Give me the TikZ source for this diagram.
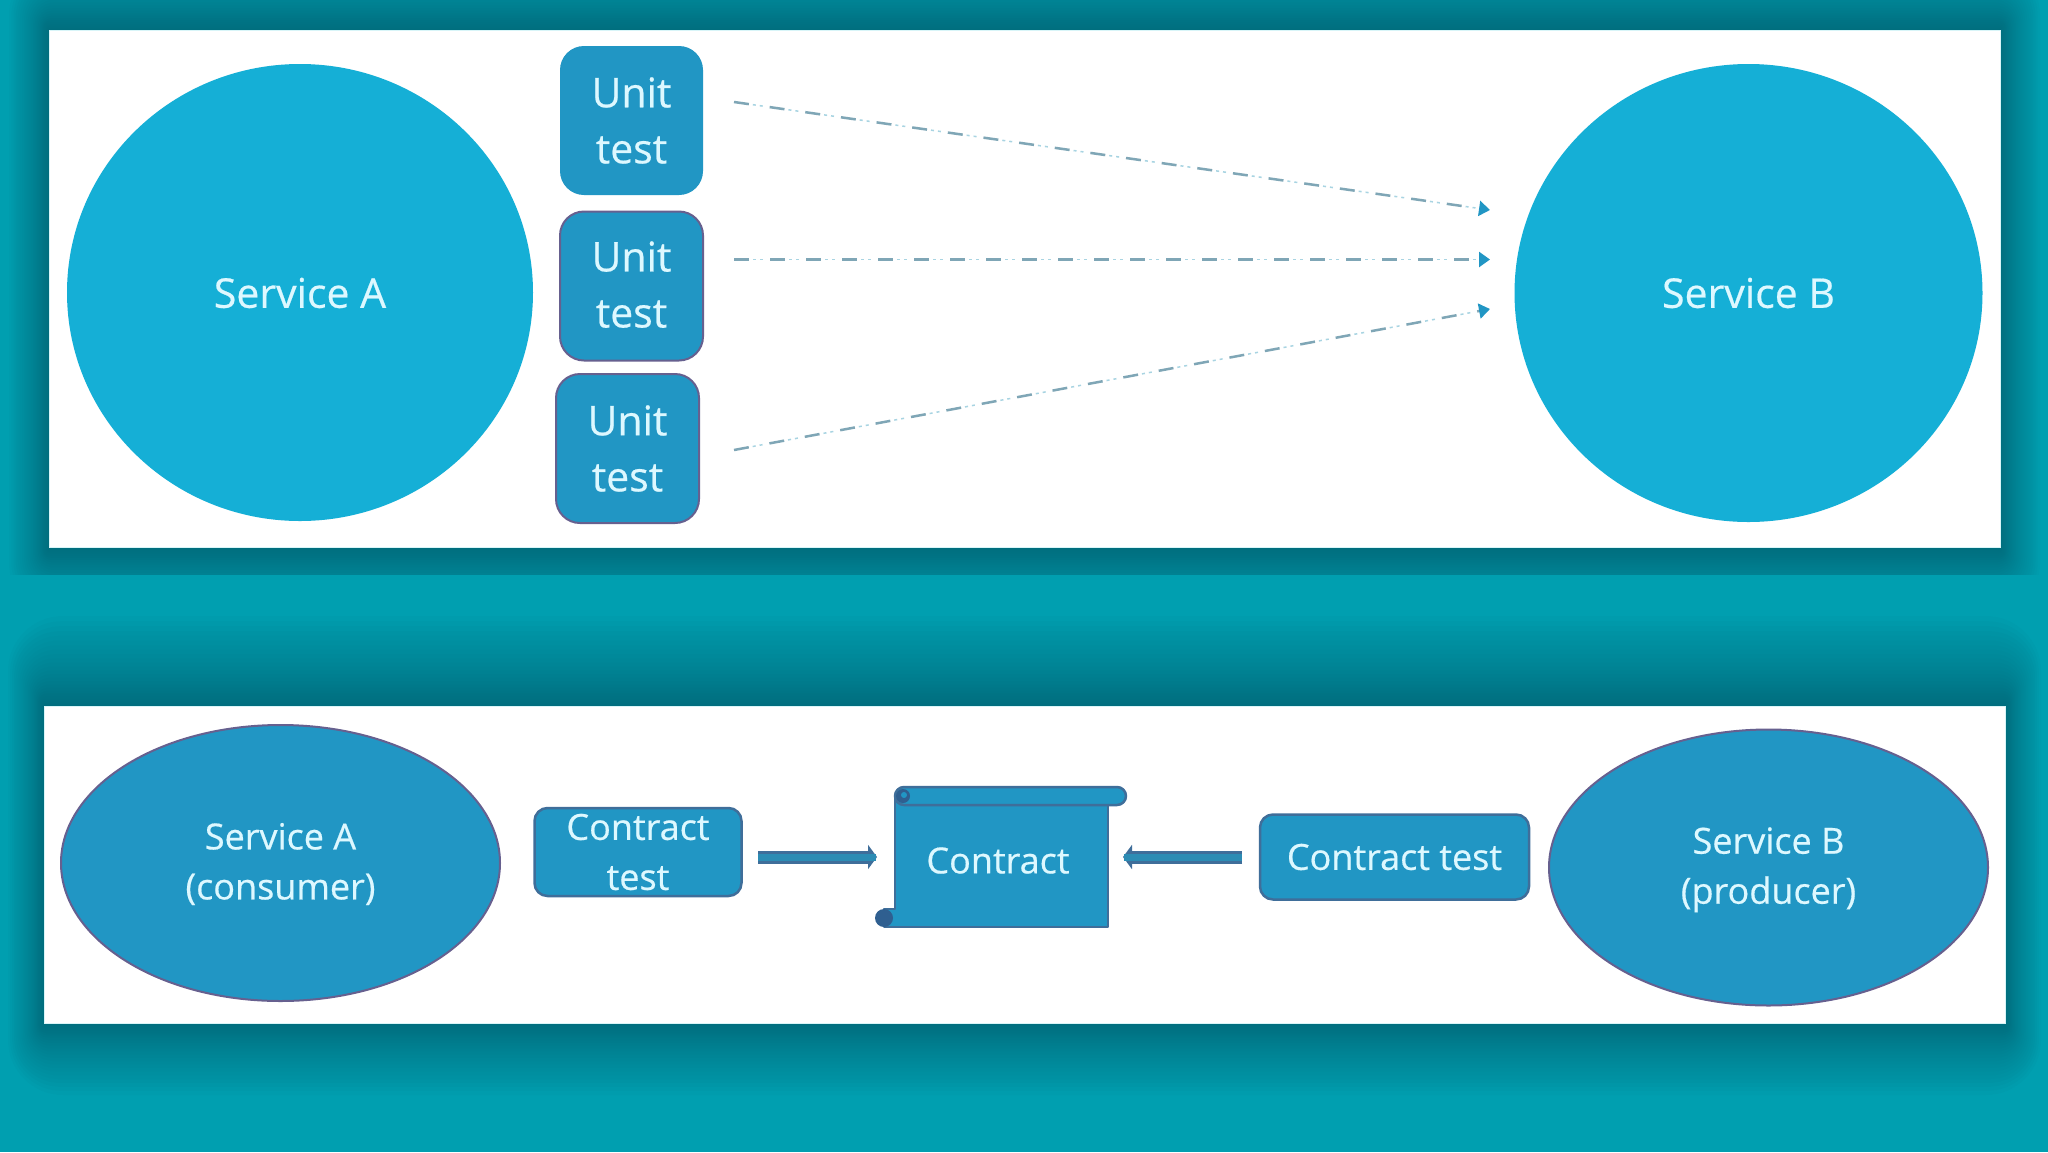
\documentclass[tikz,border=0pt]{standalone}
\usepackage{fontspec}
\setmainfont{Open Sans}[FakeBold=0.5]
\usetikzlibrary{shapes.geometric,arrows.meta}
\definecolor{bgteal}{HTML}{009FB0}
\definecolor{shadowteal}{HTML}{005565}
\definecolor{rimcyan}{HTML}{D8F5F8}
\definecolor{lightblue}{HTML}{15AFD6}
\definecolor{midblue}{HTML}{2196C4}
\definecolor{edgepurple}{HTML}{66608F}
\definecolor{edgeblue}{HTML}{3F6E9A}
\definecolor{curlblue}{HTML}{2F5F90}
\definecolor{labeltext}{HTML}{DDF8FF}
\definecolor{dashline}{HTML}{7FA6B6}
\definecolor{dashfaint}{HTML}{A8D4E2}
\definecolor{arrowinner}{HTML}{2C8CB4}
\tikzset{
  panel/.style={fill=white,draw=rimcyan,line width=1pt},
  svc/.style={shape=ellipse,inner sep=0pt,fill=lightblue,text=labeltext,align=center,font=\fontsize{41}{50}\selectfont},
  svcb/.style={shape=ellipse,inner sep=0pt,fill=midblue,draw=edgepurple,line width=2pt,text=labeltext,align=center,font=\fontsize{36}{50}\selectfont},
  unitbox/.style={shape=rectangle,rounded corners=24pt,inner sep=0pt,minimum width=143pt,minimum height=149pt,fill=midblue,text=labeltext,align=center,font=\fontsize{41}{56}\selectfont},
  ctbox/.style={shape=rectangle,rounded corners=13pt,inner sep=0pt,fill=midblue,draw=edgeblue,line width=2.5pt,text=labeltext,align=center,font=\fontsize{36}{50}\selectfont},
  flowdash/.style={line width=2.5pt,draw=dashline,dash pattern=on 15pt off 21pt,-{Triangle[length=11pt,width=15pt,color=midblue]},
    preaction={draw=dashfaint,line width=1.5pt,dash pattern=on 0pt off 19pt on 3pt off 4pt on 3pt off 7pt,-,shorten >=8pt}},
  blockarrow/.style={line width=13pt,draw=edgeblue,-{Triangle[length=9pt,width=24pt,color=edgeblue]},postaction={draw=arrowinner,line width=7pt,-,shorten >=1pt}},
  scrollpart/.style={fill=midblue,draw=edgeblue,line width=2.5pt,line join=round},
}
\begin{document}
\begin{tikzpicture}[x=1pt,y=-1pt]
\useasboundingbox (0,0) rectangle (2048,1152);
\fill[bgteal] (0,0) rectangle (2048,1152);
% soft shadows behind the panels
\begin{scope}
  \clip (0,0) rectangle (2048,574);
  \foreach \i in {1,...,26}{
    \pgfmathsetmacro{\t}{pow(\i/26,1.5)}
    \fill[shadowteal,opacity=.033,rounded corners=\t*55pt]
      ({49-\t*40},{30-\t*70}) rectangle ({2000+\t*40},{548+\t*70});
  }
\end{scope}
\foreach \i in {1,...,26}{
  \pgfmathsetmacro{\t}{pow(\i/26,1.5)}
  \fill[shadowteal,opacity=.033,rounded corners=\t*55pt]
    ({44-\t*36},{706-\t*90}) rectangle ({2005+\t*36},{1023+\t*72});
}
% panels
\draw[panel] (49.5,30) rectangle (2000,547.5);
\draw[panel] (44,706.5) rectangle (2005,1023);
% top row
\node[svc,minimum width=466pt,minimum height=457pt] (svcA) at (300,292.5) {\rule{0pt}{31pt}Service A};
\node[svc,minimum width=468pt,minimum height=458pt] (svcB) at (1748.5,293) {Service B};
\node[unitbox] (u1) at (631.5,120.5) {Unit\\test};
\node[unitbox,draw=edgepurple,line width=2pt] (u2) at (631.5,286) {Unit\\test\rule[-3.2pt]{0pt}{3.2pt}};
\node[unitbox,draw=edgepurple,line width=2pt] (u3) at (627.5,448.5) {Unit\\test};
\coordinate (s1) at (734,102);
\coordinate (s2) at (734,259.5);
\coordinate (s3) at (734,450);
\coordinate (e1) at (1490,210);
\coordinate (e2) at (1490,259.5);
\coordinate (e3) at (1490,309);
\draw[flowdash] (s1) -- (e1);
\draw[flowdash] (s2) -- (e2);
\draw[flowdash] (s3) -- (e3);
% bottom row
\node[svcb,minimum width=439pt,minimum height=276pt] (conA) at (280.5,863) {\rule{0pt}{28.5pt}Service A\\(consumer)};
\node[svcb,minimum width=439pt,minimum height=276pt] (proB) at (1768.5,867.5) {\rule{0pt}{31pt}Service B\\(producer)};
\node[ctbox,minimum width=207pt,minimum height=88pt] (ct1) at (638,852) {Contract\\test};
\node[ctbox,minimum width=269pt,minimum height=85pt] (ct2) at (1394.5,857) {Contract test};
% scroll
\path[scrollpart] (895,796) -- (895,909) -- (884,909) -- (884,927) -- (1108,927) -- (1108,796) -- cycle;
\path[scrollpart,rounded corners=9pt] (895,787) rectangle (1126,805);
\fill[curlblue] (884,918) circle[radius=9pt];
\fill[curlblue] (903,796) circle[radius=7pt];
\fill[midblue] (904,795) circle[radius=3pt];
\node[inner sep=0pt,text=labeltext,font=\fontsize{36}{50}\selectfont,minimum width=213pt,minimum height=122pt] (contract) at (998,860.5) {Contract};
\coordinate (a1) at (758,857);
\coordinate (b1) at (877,857);
\coordinate (a2) at (1242,857);
\coordinate (b2) at (1123,857);
\draw[blockarrow] (a1) -- (b1);
\draw[blockarrow] (a2) -- (b2);
\end{tikzpicture}
\end{document}
